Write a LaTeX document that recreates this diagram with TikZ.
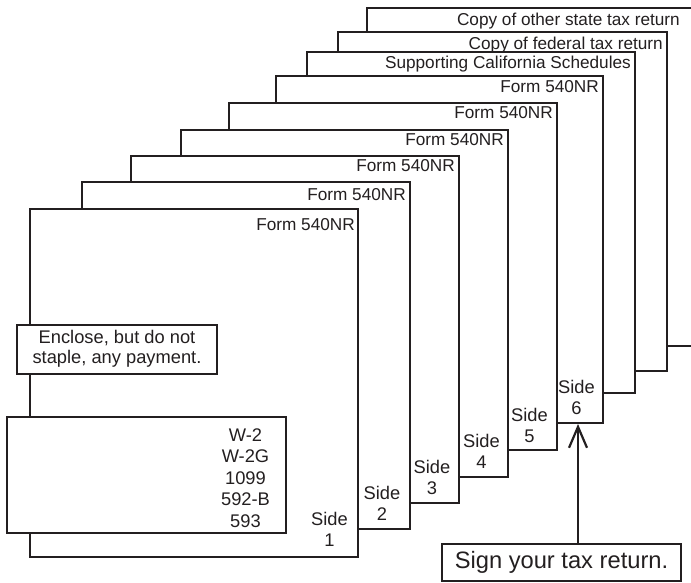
\documentclass[tikz,border=0pt]{standalone}
\usepackage{fontspec}
\setmainfont{Liberation Sans}
\usetikzlibrary{arrows.meta}
\definecolor{ink}{RGB}{35,31,32}
\begin{document}
\begin{tikzpicture}[x=1pt,y=-1pt,
  page/.style={draw=ink,fill=white,line width=1.1pt},
  plabel/.style={anchor=base east,inner sep=0pt,font=\fontsize{17.2}{20}\selectfont,text=ink},
  sidelab/.style={anchor=base,align=center,inner sep=0pt,font=\fontsize{18.3}{21}\selectfont,text=ink},
  infobox/.style={draw=ink,fill=white,line width=1.1pt,inner sep=0pt},
  bodytext/.style={align=center,inner sep=0pt,font=\fontsize{18.3}{21.5}\selectfont,text=ink},
  signbox/.style={draw=ink,fill=white,line width=2pt,inner sep=0pt,minimum width=239pt,minimum height=37pt,font=\fontsize{23.7}{26}\selectfont,text=ink},
  pointer/.style={draw=ink,line width=2.5pt,-{Straight Barb[length=21pt,width=18pt,line width=2.2pt]}}
]
\useasboundingbox (0,0) rectangle (691,582);
% pages, back to front
\path[page] (367,8) rectangle (694,346);
\node[plabel] (p9) at (680,25) {Copy of other state tax return};
\path[page] (338,32) rectangle (667,371);
\node[plabel] (p8) at (663,49) {Copy of federal tax return};
\path[page] (307,52) rectangle (635,393);
\node[plabel] (p7) at (631,68) {Supporting California Schedules};
\path[page] (276,76) rectangle (603,423);
\node[plabel] (p6) at (599,92) {Form 540NR};
\node[sidelab] (s6) at (576.5,414) {Side\\6};
\path[page] (229,103) rectangle (557,450);
\node[plabel] (p5) at (553,118) {Form 540NR};
\node[sidelab] (s5) at (529.5,442) {Side\\5};
\path[page] (181,130) rectangle (508,477);
\node[plabel] (p4) at (504,145) {Form 540NR};
\node[sidelab] (s4) at (481.5,468) {Side\\4};
\path[page] (131,156) rectangle (459,503);
\node[plabel] (p3) at (455,171) {Form 540NR};
\node[sidelab] (s3) at (432,494) {Side\\3};
\path[page] (82,182) rectangle (410,529);
\node[plabel] (p2) at (406,200) {Form 540NR};
\node[sidelab] (s2) at (382,520) {Side\\2};
\path[page] (30,209) rectangle (358,557);
\node[plabel] (p1) at (355,230) {Form 540NR};
\node[sidelab] (s1) at (329.5,546) {Side\\1};
% enclosure boxes
\node[infobox,minimum width=200pt,minimum height=49pt] (encl) at (117,349.5) {};
\node[bodytext,anchor=base,font=\fontsize{18.3}{20}\selectfont] (encltext) at (117,363) {Enclose, but do not\\staple, any payment.};
\node[infobox,minimum width=279pt,minimum height=116pt] (wbox) at (146.5,475) {};
\node[bodytext,anchor=base] (wlist) at (245.5,527) {W-2\\W-2G\\1099\\592-B\\593};
% signing
\node[signbox] (sign) at (561.5,562.5) {Sign your tax return.};
\coordinate (tip) at (578,424);
\draw[pointer] (sign.north -| tip) -- (tip);
\end{tikzpicture}
\end{document}
